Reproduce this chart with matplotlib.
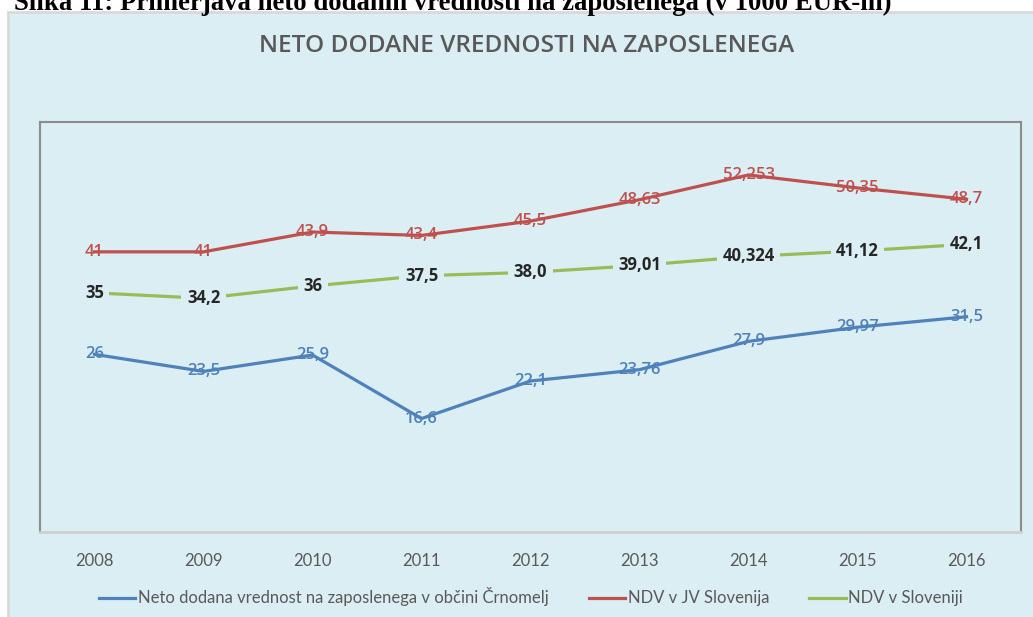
import matplotlib
matplotlib.use("Agg")
import matplotlib.pyplot as plt
from matplotlib.patches import Rectangle
from matplotlib.lines import Line2D

years = ["2008", "2009", "2010", "2011", "2012", "2013", "2014", "2015", "2016"]
crnomelj = [26, 23.5, 25.9, 16.6, 22.1, 23.76, 27.9, 29.97, 31.5]
jv_slovenija = [41, 41, 43.9, 43.4, 45.5, 48.63, 52.253, 50.35, 48.7]
slovenija = [35, 34.2, 36, 37.5, 38.0, 39.01, 40.324, 41.12, 42.1]
crnomelj_lbl = ["26", "23,5", "25,9", "16,6", "22,1", "23,76", "27,9", "29,97", "31,5"]
jv_lbl = ["41", "41", "43,9", "43,4", "45,5", "48,63", "52,253", "50,35", "48,7"]
slo_lbl = ["35", "34,2", "36", "37,5", "38,0", "39,01", "40,324", "41,12", "42,1"]
series_names = ["Neto dodana vrednost na zaposlenega v občini Črnomelj",
                "NDV v JV Slovenija", "NDV v Sloveniji"]
title = "NETO DODANE VREDNOSTI NA ZAPOSLENEGA"
caption = "Slika 11: Primerjava neto dodanih vrednosti na zaposlenega (v 1000 EUR-ih)"

BLUE = "#4F81BD"
RED = "#C0504D"
GREEN = "#9BBB59"
BG = "#DBEEF4"

W, H = 1033, 617
fig = plt.figure(figsize=(W / 100, H / 100), dpi=100)
fig.patch.set_facecolor("white")

# chart area background
fig.patches.append(Rectangle((8 / W, -0.1), 1.2, 1.1 - 12 / H, transform=fig.transFigure,
                             facecolor=BG, edgecolor="#D9D9D9", linewidth=2, zorder=-5))

# caption (partially cut at top)
fig.text(14 / W, 1 - 10 / H, caption, family="Liberation Serif", fontweight="bold",
         fontsize=19.3, va="baseline", ha="left", color="black", zorder=-4)

fig.text(527 / W, 1 - 46 / H, title, family="Open Sans", fontweight="semibold",
         fontsize=17.6, color="#595959", ha="center", va="center")

ax = fig.add_axes([40 / W, (H - 532) / H, (1021 - 40) / W, (532 - 122) / H])
ax.set_facecolor(BG)
x = list(range(len(years)))

ax.plot(x, crnomelj, color=BLUE, lw=2.3, zorder=3, solid_joinstyle="round")
ax.plot(x, jv_slovenija, color=RED, lw=2.3, zorder=3, solid_joinstyle="round")
ax.plot(x, slovenija, color=GREEN, lw=2.3, zorder=3, solid_joinstyle="round")

for xi, v, t in zip(x, crnomelj, crnomelj_lbl):
    ax.text(xi, v, t, color=BLUE, fontsize=12, family="Open Sans", fontweight="semibold",
            ha="center", va="center", zorder=4)
for xi, v, t in zip(x, jv_slovenija, jv_lbl):
    ax.text(xi, v, t, color=RED, fontsize=12, family="Open Sans", fontweight="semibold",
            ha="center", va="center", zorder=4)
for xi, v, t in zip(x, slovenija, slo_lbl):
    ax.text(xi, v, t, color="#262626", fontsize=12, family="Open Sans", fontweight="bold",
            ha="center", va="center", zorder=4,
            bbox=dict(facecolor=BG, edgecolor="none", pad=4))

ax.set_xlim(-0.5, len(years) - 0.5)
ax.set_ylim(0, 60)
ax.set_yticks([])
ax.set_xticks(x)
ax.set_xticklabels(years, family="Lato", fontsize=12, color="#595959")
ax.tick_params(axis="x", length=0, pad=15)
for s in ["left", "right", "top"]:
    ax.spines[s].set_color("#8C8C8C")
    ax.spines[s].set_linewidth(1.5)
ax.spines["bottom"].set_color("#D0D0D0")
ax.spines["bottom"].set_linewidth(2)

handles = [Line2D([], [], color=c, lw=2.3) for c in (BLUE, RED, GREEN)]
leg = fig.legend(handles, series_names, loc="center", bbox_to_anchor=(531 / W, 1 - 597 / H),
                 ncol=3, frameon=False, prop={"family": "Lato", "size": 12},
                 handlelength=2.2, handletextpad=0.15, columnspacing=2.4)
for t in leg.get_texts():
    t.set_color("#595959")

fig.savefig("out.png", dpi=100, facecolor="white")
